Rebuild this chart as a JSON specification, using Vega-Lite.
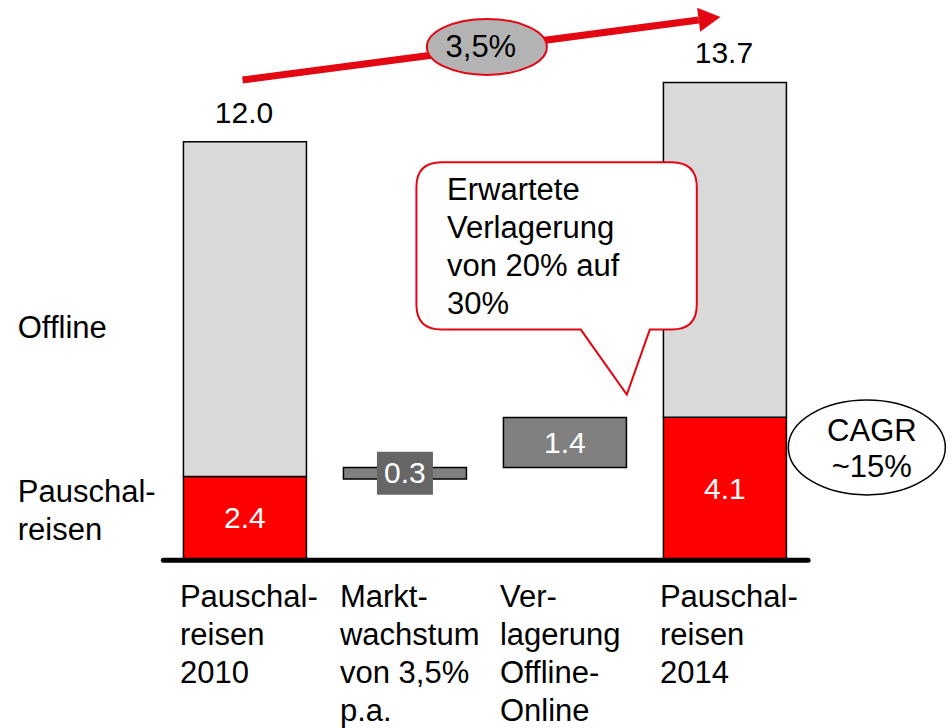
{
  "$schema": "https://vega.github.io/schema/vega-lite/v6.json",
  "width": 952,
  "height": 728,
  "padding": 0,
  "autosize": {"type": "fit", "contains": "padding"},
  "config": {"view": {"stroke": null}, "font": "Liberation Sans", "text": {"font": "Liberation Sans"}},
  "datasets": {
    "bars": [
      {"pos": 1, "segment": "Pauschalreisen", "start": 0, "end": 2.4, "label": "2.4"},
      {"pos": 1, "segment": "Offline", "start": 2.4, "end": 12.0, "label": ""},
      {"pos": 2, "segment": "Marktwachstum", "start": 2.33, "end": 2.66, "label": "0.3"},
      {"pos": 3, "segment": "Verlagerung", "start": 2.66, "end": 4.09, "label": "1.4"},
      {"pos": 4, "segment": "Pauschalreisen", "start": 0, "end": 4.1, "label": "4.1"},
      {"pos": 4, "segment": "Offline", "start": 4.1, "end": 13.7, "label": ""}
    ],
    "totals": [
      {"pos": 1, "total": 12.0, "label": "12.0"},
      {"pos": 4, "total": 13.7, "label": "13.7"}
    ],
    "categories": [
      {"pos": 1, "text": "Pauschal-\nreisen\n2010"},
      {"pos": 2, "text": "Markt-\nwachstum\nvon 3,5%\np.a."},
      {"pos": 3, "text": "Ver-\nlagerung\nOffline-\nOnline"},
      {"pos": 4, "text": "Pauschal-\nreisen\n2014"}
    ],
    "axisline": [{"from": 0.49, "to": 4.52, "value": 0}],
    "arrow": [{"x": 0.985, "y": 13.77, "order": 1}, {"x": 3.836, "y": 15.49, "order": 2}],
    "arrowhead": [{"x": 3.972, "y": 15.58}],
    "growth": [{"x": 2.512, "y": 14.72, "label": "3,5%"}],
    "callout": [{"x": 2.948, "y": 8.076}],
    "callouttext": [{"x": 2.263, "y": 10.34, "text": "Erwartete\nVerlagerung\nvon 20% auf\n30%"}],
    "cagr": [{"x": 4.887, "y": 3.236, "text": "CAGR\n~15%"}],
    "legend": [
      {"x": -0.42, "y": 6.36, "text": "Offline"},
      {"x": -0.42, "y": 1.66, "text": "Pauschal-\nreisen"}
    ]
  },
  "layer": [
    {
      "data": {"name": "bars"},
      "mark": {"type": "bar", "width": 123, "stroke": "#000000", "strokeWidth": 1.5},
      "encoding": {
        "x": {"field": "pos", "type": "quantitative", "scale": {"domain": [-0.4997, 5.388], "nice": false, "zero": false}, "axis": null},
        "y": {"field": "start", "type": "quantitative", "scale": {"domain": [-4.782, 16.065], "nice": false, "zero": false}, "axis": null},
        "y2": {"field": "end"},
        "color": {"field": "segment", "type": "nominal", "scale": {"domain": ["Pauschalreisen", "Offline", "Marktwachstum", "Verlagerung"], "range": ["#ff0000", "#d9d9d9", "#808080", "#808080"]}, "legend": null}
      }
    },
    {
      "data": {"name": "axisline"},
      "mark": {"type": "rule", "stroke": "#000000", "strokeWidth": 5, "strokeCap": "round"},
      "encoding": {
        "x": {"field": "from", "type": "quantitative", "scale": {"domain": [-0.4997, 5.388], "nice": false, "zero": false}, "axis": null},
        "x2": {"field": "to"},
        "y": {"field": "value", "type": "quantitative", "scale": {"domain": [-4.782, 16.065], "nice": false, "zero": false}, "axis": null}
      }
    },
    {
      "data": {"name": "bars"},
      "transform": [
        {"filter": "datum.segment == 'Marktwachstum'"},
        {"fold": ["start", "end"], "as": ["bound", "v"]},
        {"aggregate": [{"op": "mean", "field": "v", "as": "mid"}], "groupby": ["pos", "label"]}
      ],
      "mark": {"type": "point", "shape": "M-1,-0.768H1V0.768H-1Z", "size": 3136, "filled": true, "fill": "#666666", "opacity": 1, "strokeWidth": 0},
      "encoding": {
        "x": {"field": "pos", "type": "quantitative", "scale": {"domain": [-0.4997, 5.388], "nice": false, "zero": false}, "axis": null},
        "y": {"field": "mid", "type": "quantitative", "scale": {"domain": [-4.782, 16.065], "nice": false, "zero": false}, "axis": null}
      }
    },
    {
      "data": {"name": "bars"},
      "transform": [
        {"filter": "datum.label != ''"},
        {"fold": ["start", "end"], "as": ["bound", "v"]},
        {"aggregate": [{"op": "mean", "field": "v", "as": "mid"}], "groupby": ["pos", "label"]}
      ],
      "mark": {"type": "text", "color": "#ffffff", "fontSize": 30, "baseline": "middle", "align": "center", "dy": 1},
      "encoding": {
        "x": {"field": "pos", "type": "quantitative", "scale": {"domain": [-0.4997, 5.388], "nice": false, "zero": false}, "axis": null},
        "y": {"field": "mid", "type": "quantitative", "scale": {"domain": [-4.782, 16.065], "nice": false, "zero": false}, "axis": null},
        "text": {"field": "label"}
      }
    },
    {
      "data": {"name": "totals"},
      "mark": {"type": "text", "color": "#000000", "fontSize": 30, "baseline": "alphabetic", "align": "center", "dy": -19, "dx": -1},
      "encoding": {
        "x": {"field": "pos", "type": "quantitative", "scale": {"domain": [-0.4997, 5.388], "nice": false, "zero": false}, "axis": null},
        "y": {"field": "total", "type": "quantitative", "scale": {"domain": [-4.782, 16.065], "nice": false, "zero": false}, "axis": null},
        "text": {"field": "label"}
      }
    },
    {
      "data": {"name": "categories"},
      "mark": {"type": "text", "color": "#000000", "fontSize": 31, "baseline": "alphabetic", "align": "left", "dx": -65, "dy": 47, "lineBreak": "\n", "lineHeight": 38},
      "encoding": {
        "x": {"field": "pos", "type": "quantitative", "scale": {"domain": [-0.4997, 5.388], "nice": false, "zero": false}, "axis": null},
        "y": {"datum": 0, "type": "quantitative", "scale": {"domain": [-4.782, 16.065], "nice": false, "zero": false}, "axis": null},
        "text": {"field": "text"}
      }
    },
    {
      "data": {"name": "legend"},
      "mark": {"type": "text", "color": "#000000", "fontSize": 31, "baseline": "alphabetic", "align": "left", "lineBreak": "\n", "lineHeight": 38},
      "encoding": {
        "x": {"field": "x", "type": "quantitative", "scale": {"domain": [-0.4997, 5.388], "nice": false, "zero": false}, "axis": null},
        "y": {"field": "y", "type": "quantitative", "scale": {"domain": [-4.782, 16.065], "nice": false, "zero": false}, "axis": null},
        "text": {"field": "text"}
      }
    },
    {
      "data": {"name": "arrow"},
      "mark": {"type": "line", "stroke": "#e30613", "strokeWidth": 7},
      "encoding": {
        "x": {"field": "x", "type": "quantitative", "scale": {"domain": [-0.4997, 5.388], "nice": false, "zero": false}, "axis": null},
        "y": {"field": "y", "type": "quantitative", "scale": {"domain": [-4.782, 16.065], "nice": false, "zero": false}, "axis": null},
        "order": {"field": "order"}
      }
    },
    {
      "data": {"name": "arrowhead"},
      "mark": {"type": "point", "shape": "M0,0L-1,-0.55L-1,0.55Z", "size": 1936, "filled": true, "fill": "#e30613", "opacity": 1, "strokeWidth": 0, "angle": -7.4},
      "encoding": {
        "x": {"field": "x", "type": "quantitative", "scale": {"domain": [-0.4997, 5.388], "nice": false, "zero": false}, "axis": null},
        "y": {"field": "y", "type": "quantitative", "scale": {"domain": [-4.782, 16.065], "nice": false, "zero": false}, "axis": null}
      }
    },
    {
      "data": {"name": "growth"},
      "mark": {"type": "point", "shape": "M-1,0A1,0.467,0,1,0,1,0A1,0.467,0,1,0,-1,0Z", "size": 14400, "filled": true, "fill": "#b3b3b3", "opacity": 1, "stroke": "#e30613", "strokeWidth": 2},
      "encoding": {
        "x": {"field": "x", "type": "quantitative", "scale": {"domain": [-0.4997, 5.388], "nice": false, "zero": false}, "axis": null},
        "y": {"field": "y", "type": "quantitative", "scale": {"domain": [-4.782, 16.065], "nice": false, "zero": false}, "axis": null}
      }
    },
    {
      "data": {"name": "growth"},
      "mark": {"type": "text", "color": "#000000", "fontSize": 31, "baseline": "middle", "align": "center", "dx": -6, "dy": 1},
      "encoding": {
        "x": {"field": "x", "type": "quantitative", "scale": {"domain": [-0.4997, 5.388], "nice": false, "zero": false}, "axis": null},
        "y": {"field": "y", "type": "quantitative", "scale": {"domain": [-4.782, 16.065], "nice": false, "zero": false}, "axis": null},
        "text": {"field": "label"}
      }
    },
    {
      "data": {"name": "callout"},
      "mark": {"type": "point", "shape": "M-1.152,-1.163H1.152Q1.402,-1.163,1.402,-0.913V0.26Q1.402,0.51,1.152,0.51H0.932L0.702,1.16L0.242,0.51H-1.152Q-1.402,0.51,-1.402,0.26V-0.913Q-1.402,-1.163,-1.152,-1.163Z", "size": 40000, "filled": true, "fill": "#ffffff", "opacity": 1, "stroke": "#e30613", "strokeWidth": 2},
      "encoding": {
        "x": {"field": "x", "type": "quantitative", "scale": {"domain": [-0.4997, 5.388], "nice": false, "zero": false}, "axis": null},
        "y": {"field": "y", "type": "quantitative", "scale": {"domain": [-4.782, 16.065], "nice": false, "zero": false}, "axis": null}
      }
    },
    {
      "data": {"name": "callouttext"},
      "mark": {"type": "text", "color": "#000000", "fontSize": 31, "baseline": "alphabetic", "align": "left", "lineBreak": "\n", "lineHeight": 38},
      "encoding": {
        "x": {"field": "x", "type": "quantitative", "scale": {"domain": [-0.4997, 5.388], "nice": false, "zero": false}, "axis": null},
        "y": {"field": "y", "type": "quantitative", "scale": {"domain": [-4.782, 16.065], "nice": false, "zero": false}, "axis": null},
        "text": {"field": "text"}
      }
    },
    {
      "data": {"name": "cagr"},
      "mark": {"type": "point", "shape": "M-1,0A1,0.605,0,1,0,1,0A1,0.605,0,1,0,-1,0Z", "size": 24649, "filled": true, "fill": "#ffffff", "opacity": 1, "stroke": "#000000", "strokeWidth": 1.5},
      "encoding": {
        "x": {"field": "x", "type": "quantitative", "scale": {"domain": [-0.4997, 5.388], "nice": false, "zero": false}, "axis": null},
        "y": {"field": "y", "type": "quantitative", "scale": {"domain": [-4.782, 16.065], "nice": false, "zero": false}, "axis": null}
      }
    },
    {
      "data": {"name": "cagr"},
      "mark": {"type": "text", "color": "#000000", "fontSize": 31, "baseline": "alphabetic", "align": "center", "dx": 5, "dy": -6, "lineBreak": "\n", "lineHeight": 36},
      "encoding": {
        "x": {"field": "x", "type": "quantitative", "scale": {"domain": [-0.4997, 5.388], "nice": false, "zero": false}, "axis": null},
        "y": {"field": "y", "type": "quantitative", "scale": {"domain": [-4.782, 16.065], "nice": false, "zero": false}, "axis": null},
        "text": {"field": "text"}
      }
    }
  ]
}
